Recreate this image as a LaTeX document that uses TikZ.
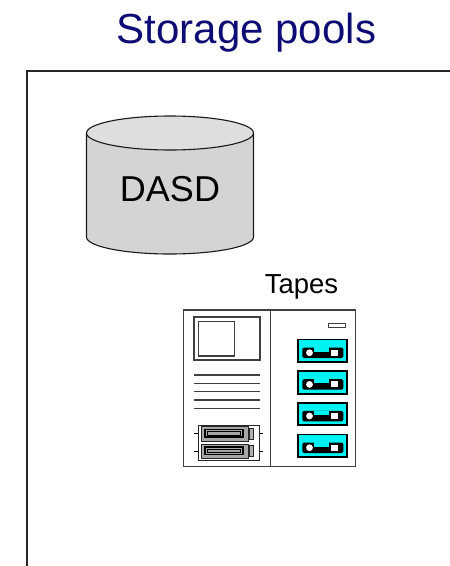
\documentclass[tikz,border=0pt]{standalone}
\usepackage{fontspec}
\setmainfont{Liberation Sans}
\definecolor{poolnavy}{HTML}{0C0C74}
\definecolor{dasdtop}{HTML}{DEDEDE}
\definecolor{dasdside}{HTML}{D4D4D4}
\definecolor{tapecyan}{HTML}{00F2F2}
\definecolor{drivegrey}{HTML}{A6A6A6}
\tikzset{
  title/.style={font=\fontsize{42}{48}\selectfont, text=poolnavy, inner sep=0pt, anchor=base},
  lbl/.style={inner sep=0pt, anchor=base},
  poolframe/.style={line width=1.5pt, draw=black!85},
  dasd/.style={line width=1.1pt, draw=black!90},
  unit/.style={line width=1.3pt, draw=black!75},
  cart/.style={line width=1.8pt, draw=black, fill=tapecyan},
  drive/.style={line width=0.9pt, draw=black!85, fill=drivegrey},
}

\begin{document}
\begin{tikzpicture}[x=1pt, y=-1pt]
  \useasboundingbox (0,0) rectangle (450,566);
  \node[title] (title) at (246.5,43) {Storage pools};

  % pool frame, open to the right and bottom
  \draw[poolframe] (450,71) -- (27,71) -- (27,566);

  % DASD cylinder
  \draw[dasd, fill=dasdside] (86.5,133) -- (86.5,237)
    arc[start angle=180, end angle=360, x radius=83.5pt, y radius=17pt] -- (253.5,133);
  \draw[dasd, fill=dasdtop] (170,133) ellipse [x radius=83.5pt, y radius=17pt];
  \node[lbl, font=\fontsize{36}{40}\selectfont] (dasd) at (170,201.5) {DASD};

  % tape library
  \node[lbl, font=\fontsize{27.5}{32}\selectfont] (tapes) at (301.5,293) {Tapes};
  \draw[unit, fill=white] (183.3,310) rectangle (355.7,466.7);
  \draw[unit] (270.7,310) -- (270.7,466.7);
  \draw[unit] (194,317) rectangle (260,360);
  \draw[unit] (198.3,321.7) rectangle (234.3,356);
  \foreach \y in {375,383.3,391.7,400,408.3}
    \draw[unit] (194,\y) -- (260,\y);

  % drive bays
  \draw[line width=0.8pt, draw=black!85] (198,425) rectangle (259.7,460);
  \foreach \y in {425,442.5} {
    \draw[drive] (201,\y+1.5) rectangle (248,\y+16);
    \draw[line width=1.3pt, fill=black!35] (205,\y+4.5) rectangle (243,\y+12);
    \draw[line width=0.6pt, fill=drivegrey] (207.5,\y+6.5) rectangle (240.5,\y+10);
    \draw[drive, fill=black!30] (249.5,\y+3) rectangle (253.5,\y+14);
    \draw[line width=0.8pt] (194,\y+8.7) -- (198,\y+8.7);
    \draw[line width=0.8pt] (259.7,\y+8.7) -- (262.5,\y+8.7);
  }

  % status light and cartridges
  \draw[unit, line width=0.9pt] (328,323.3) rectangle (345.7,327.3);
  \foreach \y in {339.5,371.2,402.8,434.5} {
    \draw[cart] (298,\y) rectangle (347,\y+22.5);
    \fill[black, rounded corners=1.5pt] (302.3,\y+8) rectangle (343.3,\y+18.5);
    \fill[tapecyan] (314,\y+7.8) rectangle (329,\y+12);
    \fill[white] (309.5,\y+13.2) circle (3.4pt);
    \fill[white] (330.5,\y+10.2) rectangle (337.5,\y+16.2);
  }
\end{tikzpicture}
\end{document}
